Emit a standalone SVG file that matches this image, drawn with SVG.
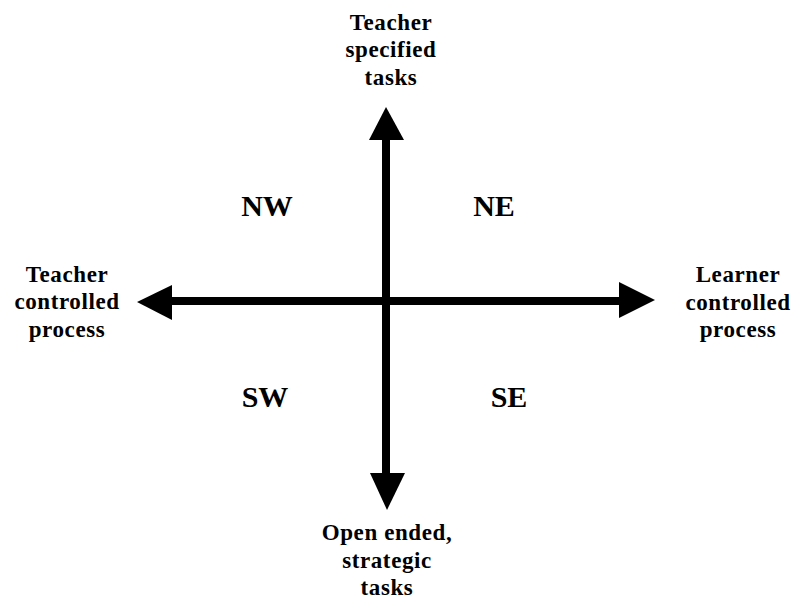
<svg xmlns="http://www.w3.org/2000/svg" width="800" height="609" viewBox="0 0 800 609">
<style>
.lbl{font-family:"Liberation Serif","Times New Roman",serif;font-weight:bold;font-size:23px;letter-spacing:0.6px;fill:#000;text-anchor:middle}
.q{font-family:"Liberation Serif","Times New Roman",serif;font-weight:bold;font-size:30px;fill:#000;text-anchor:middle}
.ax{stroke:#000;stroke-width:8;fill:none}
</style>
<rect width="800" height="609" fill="#fff"/>
<g id="connectors">
<line class="ax" x1="386" y1="138" x2="386" y2="475"/>
<line class="ax" x1="170" y1="301" x2="621" y2="301"/>
<polygon points="386,107 369,140 404,140" fill="#000"/>
<polygon points="387,510 370,473 405,473" fill="#000"/>
<polygon points="137,302 172,285 172,320" fill="#000"/>
<polygon points="655,300 619,282 619,318" fill="#000"/>
</g>
<g id="top">
<text class="lbl" x="391" y="30">Teacher</text>
<text class="lbl" x="391" y="57">specified</text>
<text class="lbl" x="391" y="85">tasks</text>
</g>
<g id="bottom">
<text class="lbl" x="387" y="540">Open ended,</text>
<text class="lbl" x="387" y="568">strategic</text>
<text class="lbl" x="387" y="595">tasks</text>
</g>
<g id="left">
<text class="lbl" x="67" y="282">Teacher</text>
<text class="lbl" x="67" y="309">controlled</text>
<text class="lbl" x="67" y="337">process</text>
</g>
<g id="right">
<text class="lbl" x="738" y="282">Learner</text>
<text class="lbl" x="738" y="310">controlled</text>
<text class="lbl" x="738" y="337">process</text>
</g>
<g id="nw"><text class="q" x="267" y="216">NW</text></g>
<g id="ne"><text class="q" x="494" y="216">NE</text></g>
<g id="sw"><text class="q" x="265" y="407">SW</text></g>
<g id="se"><text class="q" x="509" y="407">SE</text></g>
</svg>
